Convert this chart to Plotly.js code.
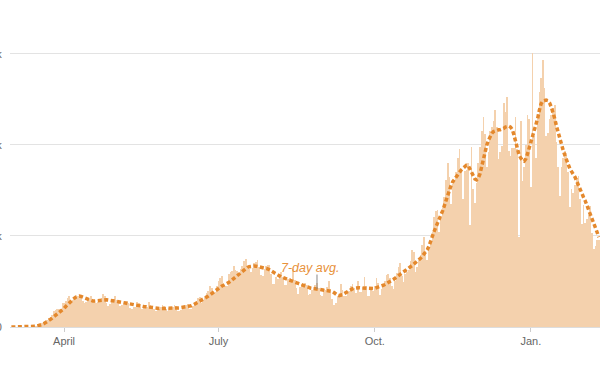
<!DOCTYPE html>
<html>
<head>
<meta charset="utf-8">
<script src="https://cdn.plot.ly/plotly-3.0.1.min.js"></script>
<style>html,body{margin:0;padding:0;background:#fff;}#chart{width:600px;height:370px;}</style>
</head>
<body>
<div id="chart"></div>
<script>
// Daily new cases (thousands), by month
var startDate = '2020-03-01';
var cases_mar = [0,0,0,0,0.1,0.1,0.1,0.1,0.2,0.3,0.4,0.5,0.6,0.8,1.0,1.4,1.8,2.6,4.5,5.4,6.6,8.2,10.0,10.5,12.9,17.7,18.8,19.6,19.4,20.3,25.8];
var cases_apr = [26.5,28.5,32.0,33.5,28.0,29.5,31.0,32.5,34.5,34.0,33.0,28.0,26.5,27.5,29.5,31.0,33.5,30.0,27.0,26.0,27.5,29.5,32.0,36.0,33.5,26.5,23.5,25.5,28.5,30.5];
var cases_may = [33.5,29.5,26.0,23.0,24.0,25.5,28.0,28.5,26.0,21.0,19.5,22.0,22.5,27.5,26.5,25.0,20.0,21.5,21.5,21.5,27.5,24.0,22.5,19.5,17.5,19.0,19.5,21.5,24.0,23.5,19.5];
var cases_jun = [18.0,20.5,20.5,21.5,24.0,23.0,18.0,17.5,18.5,21.0,22.5,24.5,25.0,19.5,19.5,23.0,25.5,28.0,32.0,32.5,26.5,28.0,33.0,37.5,39.0,45.0,42.5,39.5,38.5,45.0];
var cases_jul = [50.0,54.0,56.5,45.0,44.5,45.5,58.0,60.5,62.0,67.5,63.0,61.0,57.0,64.0,67.0,72.0,75.0,66.5,64.0,60.0,64.5,70.5,71.5,74.0,66.0,57.0,56.5,63.5,67.0,68.5,68.0];
var cases_aug = [58.0,47.5,47.0,54.5,53.0,58.0,60.5,55.0,46.5,46.0,52.5,54.0,51.5,64.0,51.5,42.5,36.0,44.0,47.0,44.5,48.5,46.5,35.5,36.0,40.5,44.0,46.0,48.5,43.0,35.0,33.5];
var cases_sep = [41.5,40.5,44.0,50.0,41.5,31.0,24.5,26.0,33.5,36.5,47.0,41.0,34.5,34.0,39.0,39.5,44.5,47.5,43.0,37.0,51.0,38.5,38.5,44.0,55.0,45.5,34.5,33.5,43.0,40.0];
var cases_oct = [44.5,54.0,48.5,35.5,42.0,43.5,50.0,57.0,58.5,54.0,45.0,41.5,50.5,59.0,65.5,70.0,56.0,49.0,58.5,60.5,62.5,72.0,84.0,82.5,60.0,66.0,74.0,79.5,90.0,99.0,83.0];
var cases_nov = [74,88,94.5,104,121,127,128,104,120,131,143,161,180,165,135,157,161,170,185,195,172,141,171,172,180,112,198,152,136,158];
var cases_dec = [180,198,215,231,212,176,192,215,219,226,238,219,184,192,199,246,236,252,193,188,196,197,230,195,99,226,160,176,200,233,228];
var cases_jan = [154,301,210,185,234,258,273,293,262,210,213,228,233,240,244,203,176,144,176,186,193,191,170,132,152,147,156,163,166,141,113];
var cases_feb = [134,114,119,123,133,103,86,89,95,95];

// 7-day average (thousands), by month
var avg_mar = [0,0,0,0,0,0.1,0.1,0.1,0.1,0.1,0.2,0.3,0.4,0.6,0.8,1.0,1.3,1.9,2.7,3.6,4.6,5.7,7.0,8.4,9.8,11.2,12.6,13.9,15.2,16.8,18.5];
var avg_apr = [20.4,22.5,24.5,26.5,28.3,30.0,31.5,32.8,33.6,33.9,33.5,32.8,31.8,31.0,30.2,29.6,29.0,28.5,28.5,28.7,29.0,29.4,29.8,30.0,30.0,29.8,29.6,29.5,29.2,29.0];
var avg_may = [28.6,28.2,27.8,27.4,27.0,26.6,26.3,26.0,25.6,25.2,24.7,24.2,23.7,23.3,23.0,22.8,22.6,22.4,22.3,22.2,22.1,22.0,21.8,21.5,21.1,20.7,20.4,20.2,20.1,20.2,20.4];
var avg_jun = [20.6,20.8,21.0,21.1,21.1,21.0,20.9,21.0,21.2,21.4,21.6,21.9,22.2,22.6,23.3,24.2,25.2,26.2,27.2,28.2,29.3,30.4,31.6,32.8,34.0,35.3,36.7,38.2,39.8,41.4];
var avg_jul = [42.8,44.0,45.0,45.8,46.6,47.6,48.8,50.2,51.8,53.5,55.2,56.8,58.4,60.0,61.6,63.0,64.3,65.4,66.2,66.7,67.0,67.0,66.8,66.5,66.1,65.7,65.4,65.1,64.6,63.8,62.8];
var avg_aug = [61.6,60.3,58.9,57.5,56.4,55.5,54.8,54.2,53.6,53.0,52.2,51.4,50.6,49.9,49.2,48.5,47.8,47.0,46.2,45.4,44.6,43.9,43.3,42.8,42.5,42.2,41.9,41.6,41.3,41.0,40.8];
var avg_sep = [40.8,40.7,40.5,40.2,39.8,39.0,37.8,36.2,35.0,34.5,34.6,35.4,36.6,37.8,39.0,40.2,41.2,42.0,42.6,43.0,43.2,43.2,43.0,42.8,42.6,42.5,42.4,42.3,42.2,42.2];
var avg_oct = [42.5,43.0,43.6,44.3,45.0,45.8,46.6,47.5,48.6,49.8,51.0,52.2,53.5,55.0,56.6,58.0,59.2,60.4,61.6,62.8,64.0,65.6,67.4,69.0,70.4,71.8,73.4,75.4,77.6,80.0,82.4];
var avg_nov = [85.0,89.0,93.5,100.0,105.0,109.5,113.5,118.0,122.5,127.5,133.0,139.0,145.0,150.5,155.5,159.5,162.5,165.0,167.5,170.0,172.5,174.5,176.0,177.5,177.5,174.0,168.5,165.0,162.5,161.5];
var avg_dec = [163.5,168.0,176.5,185.5,193.0,199.5,205.0,209.5,212.5,214.5,215.5,216.0,216.5,216.5,217.0,218.0,219.5,220.5,220.5,219.5,217.0,211.0,203.0,195.0,189.0,185.5,182.5,182.0,184.5,190.0,196.0];
var avg_jan = [202.0,209.0,215.0,221.0,229.0,238.0,245.0,248.0,249.0,249.0,248.5,246.0,241.5,236.0,229.0,221.0,213.5,206.0,199.5,194.0,188.5,182.5,177.5,173.5,170.5,168.0,164.5,160.0,155.0,150.0,146.0];
var avg_feb = [142.5,138.5,134.0,129.0,124.0,119.0,114.0,109.0,104.0,98.5];

// Axis ticks
var xTickVals = ['2020-04-01','2020-07-01','2020-10-01','2021-01-01'];
var xTickText = ['April','July','Oct.','Jan.'];
var yTickVals = [0,100,200,300];
var yTickText = ['0','100k','200k','300k'];
var labelText = '7-day avg.';
var labelDate = '2020-08-24';
var pointerDate = '2020-08-28';

var cases = [].concat(cases_mar,cases_apr,cases_may,cases_jun,cases_jul,cases_aug,cases_sep,cases_oct,cases_nov,cases_dec,cases_jan,cases_feb);
var avg = [].concat(avg_mar,avg_apr,avg_may,avg_jun,avg_jul,avg_aug,avg_sep,avg_oct,avg_nov,avg_dec,avg_jan,avg_feb);

function pad(n){return (n<10?'0':'')+n;}
var dates = [];
var d0 = new Date(startDate + 'T00:00:00Z');
for (var i = 0; i < cases.length; i++) {
  var d = new Date(d0.getTime() + i*86400000);
  dates.push(d.getUTCFullYear()+'-'+pad(d.getUTCMonth()+1)+'-'+pad(d.getUTCDate()));
}
var pIdx = dates.indexOf(pointerDate);
var pVal = avg[pIdx];

var orange = '#e4882c';
var traces = [
  {type:'bar', x:dates, y:cases, marker:{color:'#f4d1ad', line:{width:0}}, hoverinfo:'skip'},
  {type:'scatter', mode:'lines', x:dates, y:avg, line:{color:orange, width:3.5, dash:'4px,2.5px'}, hoverinfo:'skip'}
];

var layout = {
  width:600, height:370,
  margin:{l:10, r:0, t:40, b:43},
  paper_bgcolor:'#fff', plot_bgcolor:'#fff',
  showlegend:false, bargap:0,
  font:{family:'"Liberation Sans", Arial, sans-serif', color:'#666', size:11},
  xaxis:{type:'date', range:['2020-02-29 04:00','2021-02-10 17:00'],
    tickvals:xTickVals, ticktext:xTickText, ticks:'outside', ticklen:4, tickcolor:'#ccc',
    showgrid:false, showline:true, linecolor:'#ddd', linewidth:1, zeroline:false,
    tickfont:{size:11, color:'#666'}},
  yaxis:{range:[0,315], tickvals:yTickVals, ticktext:yTickText,
    showgrid:true, gridcolor:'#e3e3e3', gridwidth:1, zeroline:false,
    ticks:'outside', ticklen:5, tickcolor:'rgba(0,0,0,0)',
    tickfont:{size:11, color:'#666'}},
  annotations:[{x:labelDate, y:65, xref:'x', yref:'y', text:labelText, showarrow:false,
    font:{size:12.5, color:'#e8913a', family:'"Liberation Sans", Arial, sans-serif', style:'italic'},
    xanchor:'center', yanchor:'middle'}],
  shapes:[{type:'line', xref:'x', yref:'y', x0:pointerDate, x1:pointerDate, y0:pVal, y1:pVal+16,
    line:{color:'#888', width:1}}]
};

Plotly.newPlot('chart', traces, layout, {displayModeBar:false, staticPlot:true});
</script>
</body>
</html>
